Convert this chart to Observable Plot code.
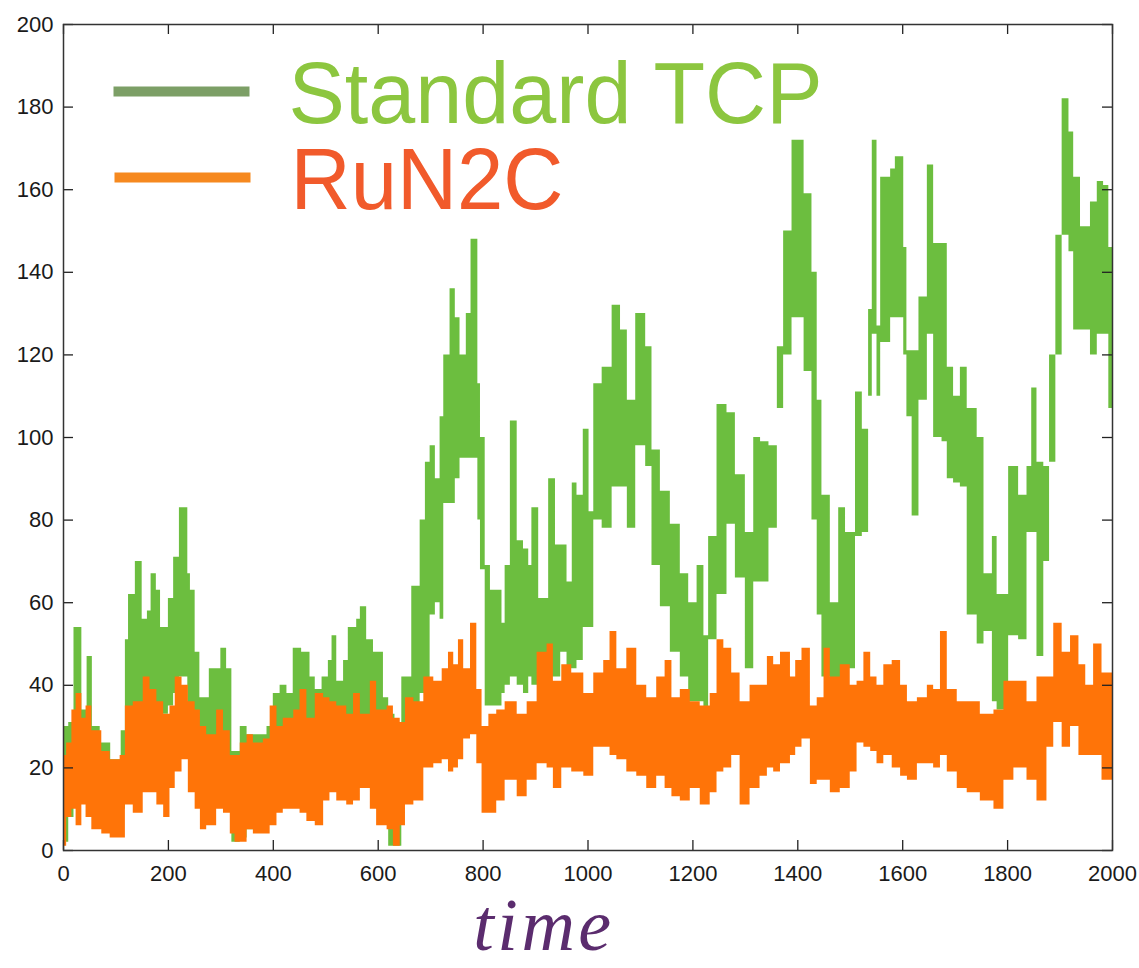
<!DOCTYPE html>
<html>
<head>
<meta charset="utf-8">
<script src="https://cdn.jsdelivr.net/npm/d3@7"></script>
<script src="https://cdn.jsdelivr.net/npm/@observablehq/plot@0.6"></script>
<style>
  body { margin: 0; background: #fff; }
  #wrap { position: relative; width: 1139px; height: 968px; overflow: hidden; }
  #xlabel {
    position: absolute; left: 544px; top: 896px; transform: translateX(-50%);
    font-family: 'Liberation Serif', 'Times New Roman', serif; font-style: italic;
    font-size: 74px; line-height: 0.8; color: #5b2c6e; white-space: nowrap;
    letter-spacing: 3.5px;
  }
</style>
</head>
<body>
<div id="wrap"><div id="chart"></div><div id="xlabel"></div></div>
<script>
// ---- tick labels ----
const xTicks = [0, 200, 400, 600, 800, 1000, 1200, 1400, 1600, 1800, 2000];
const yTicks = [0, 20, 40, 60, 80, 100, 120, 140, 160, 180, 200];
const seriesNames = ["Standard TCP", "RuN2C"];
const xLabel = "time";

// ---- Standard TCP: envelope of the rapidly oscillating trace (step starts, upper, lower) ----
const tcpX  = [0,10,20,35,45,55,70,90,110,118,124,137,150,160,167,177,185,200,210,221,237,242,251,260,278,300,311,321,337,350,388,400,413,426,438,454,470,480,493,505,512,521,534,543,559,566,578,591,610,620,632,645,664,680,690,699,709,718,725,737,747,756,768,777,790,795,804,814,836,842,852,865,877,887,893,906,925,938,948,960,970,979,991,1002,1011,1027,1046,1062,1075,1091,1110,1122,1138,1157,1176,1192,1208,1221,1230,1246,1265,1281,1300,1316,1329,1345,1361,1373,1389,1412,1427,1437,1446,1462,1478,1491,1510,1523,1535,1542,1551,1558,1577,1586,1602,1608,1618,1631,1647,1659,1675,1685,1697,1710,1723,1742,1755,1771,1780,1802,1821,1837,1846,1856,1869,1880,1892,1904,1917,1926,1939,1958,1971,1983,1993,2000];
const tcpHi = [30,31,54,34,47,30,26,22,29,51,62,70,56,58,67,63,54,61,71,83,67,63,48,37,44,49,44,24,30,28,30,38,40,38,49,48,42,39,42,46,52,41,46,54,56,59,51,48,37,33,30,42,64,80,94,98,90,105,120,136,129,120,130,148,113,100,69,63,55,69,104,75,73,69,83,61,90,74,74,65,89,86,102,82,113,117,132,126,109,130,122,97,87,79,67,60,69,52,76,108,106,91,77,100,99,98,122,150,172,159,140,109,86,60,83,77,111,102,131,172,127,163,165,168,146,121,121,134,166,147,147,117,110,117,107,100,67,76,62,93,86,93,112,94,93,120,149,182,174,163,151,157,162,161,146,146];
const tcpLo = [2,8,12,14,15,10,8,8,10,15,25,32,33,35,33,33,33,35,38,42,35,32,25,18,14,15,12,2,3,5,8,10,12,12,14,14,14,14,15,16,17,16,18,19,20,20,20,15,8,1,1,30,32,38,40,57,60,56,84,84,90,95,95,95,80,68,35,35,38,40,42,40,38,42,40,38,42,42,48,44,44,46,54,54,80,78,88,88,78,98,93,69,59,48,42,36,36,34,51,62,79,66,44,65,65,78,107,120,129,116,80,57,42,38,40,44,76,77,110,125,110,123,129,129,120,105,81,109,125,100,99,90,89,88,57,50,53,36,34,52,51,77,77,47,70,94,120,149,145,126,126,120,125,125,107,107];

// ---- RuN2C ----
const runX  = [0,6,16,24,35,43,54,73,89,108,118,133,152,165,178,191,203,213,226,238,251,261,273,292,305,318,327,337,350,362,381,394,407,419,439,451,464,480,496,508,521,540,553,566,585,597,617,629,642,652,668,687,706,722,734,744,753,763,776,788,798,811,826,842,865,884,903,922,934,950,969,992,1011,1030,1042,1055,1074,1093,1112,1131,1147,1160,1176,1195,1214,1233,1246,1259,1274,1290,1309,1328,1342,1354,1367,1386,1396,1408,1424,1437,1450,1462,1481,1500,1513,1526,1539,1551,1564,1580,1596,1609,1628,1647,1659,1672,1685,1704,1723,1748,1774,1793,1812,1837,1856,1875,1888,1904,1920,1936,1949,1964,1980,2000];
const runHi = [23,26,34,38,32,35,29,24,22,23,35,36,42,39,36,33,35,42,40,36,34,30,28,34,29,23,23,26,28,26,27,35,30,32,34,39,32,38,37,36,35,33,38,33,41,34,35,32,31,37,36,42,41,44,48,45,51,44,55,39,30,33,34,36,33,36,48,50,41,45,43,38,43,46,53,44,49,40,37,42,46,37,39,36,35,38,51,49,43,36,40,40,47,45,48,42,46,49,35,37,49,42,45,40,41,48,42,40,45,46,40,36,37,40,39,53,39,36,36,33,34,41,41,36,42,42,55,48,52,45,40,50,43,43];
const runLo = [1,8,10,6,11,8,5,4,3,3,11,9,14,14,11,8,15,19,22,14,10,5,6,10,9,4,2,2,5,4,4,6,9,10,10,9,7,6,12,14,12,11,12,15,10,6,5,1,6,11,12,20,21,22,19,20,22,27,28,21,9,9,12,17,13,17,21,20,15,20,19,18,25,25,23,22,19,18,15,18,15,13,12,15,11,14,19,20,23,11,15,18,20,19,21,23,25,27,16,17,17,14,15,19,26,25,24,21,23,20,18,17,21,21,20,23,19,15,14,12,10,17,20,17,12,25,31,25,30,23,23,23,17,17];

const tcp = tcpX.map((x, i) => ({x, hi: tcpHi[i], lo: tcpLo[i]}));
const run = runX.map((x, i) => ({x, hi: runHi[i], lo: runLo[i]}));

// frame geometry (pixels) used only to shorten the inward tick marks
const W = 1139, H = 900, mL = 63, mR = 27, mT = 24, mB = 50, tick = 10;
const innerW = W - mL - mR, innerH = H - mT - mB;

const swatch = {draw(ctx) { ctx.moveTo(-68, 0); ctx.lineTo(68, 0); }};
const tickStroke = {stroke: "#222", strokeWidth: 1.3};

const chart = Plot.plot({
  width: W,
  height: H,
  marginLeft: mL,
  marginRight: mR,
  marginTop: mT,
  marginBottom: mB,
  x: {domain: [0, 2000]},
  y: {domain: [0, 200]},
  style: {fontFamily: "'Liberation Sans', Arial, sans-serif", background: "#ffffff", color: "#222"},
  marks: [
    Plot.areaY(tcp, {x: "x", y1: "lo", y2: "hi", curve: "step-after", fill: "#6cbe3f"}),
    Plot.areaY(run, {x: "x", y1: "lo", y2: "hi", curve: "step-after", fill: "#ff7408"}),
    // inward ticks on all four sides
    Plot.tickY(yTicks, {y: d => d, insetRight: innerW - tick, ...tickStroke}),
    Plot.tickY(yTicks, {y: d => d, insetLeft: innerW - tick, ...tickStroke}),
    Plot.tickX(xTicks, {x: d => d, insetTop: innerH - tick, ...tickStroke}),
    Plot.tickX(xTicks, {x: d => d, insetBottom: innerH - tick, ...tickStroke}),
    // tick labels
    Plot.axisY(yTicks, {anchor: "left", tickSize: 0, tickPadding: 10, fontSize: 22, label: null, fill: "#1a1a1a", tickFormat: d => String(d)}),
    Plot.axisX(xTicks, {anchor: "bottom", tickSize: 0, tickPadding: 15, fontSize: 22, label: null, fill: "#1a1a1a", tickFormat: d => String(d)}),
    Plot.frame({stroke: "#333", strokeWidth: 1.5}),
    // legend
    Plot.dot([seriesNames[0]], {frameAnchor: "top-left", dx: 118, dy: 67, symbol: swatch, stroke: "#7c9f66", strokeWidth: 10, fill: "none"}),
    Plot.dot([seriesNames[1]], {frameAnchor: "top-left", dx: 119, dy: 153, symbol: swatch, stroke: "#f6891f", strokeWidth: 10, fill: "none"}),
    Plot.text([seriesNames[0]], {text: d => d, frameAnchor: "top-left", dx: 225, dy: 98, textAnchor: "start", lineAnchor: "bottom", fontSize: 88, fill: "#8cc63f"}),
    Plot.text([seriesNames[1]], {text: d => d, frameAnchor: "top-left", dx: 227, dy: 184, textAnchor: "start", lineAnchor: "bottom", fontSize: 88, fill: "#f15a2b"})
  ]
});

document.getElementById("chart").appendChild(chart);
document.getElementById("xlabel").textContent = xLabel;

// fit the large legend words to the width they take in the reference
const fit = {"Standard TCP": 534, "RuN2C": 273};
d3.select(chart).selectAll("text").each(function () {
  const w = fit[this.textContent];
  if (w) { this.setAttribute("textLength", w); this.setAttribute("lengthAdjust", "spacingAndGlyphs"); }
});
</script>
</body>
</html>
